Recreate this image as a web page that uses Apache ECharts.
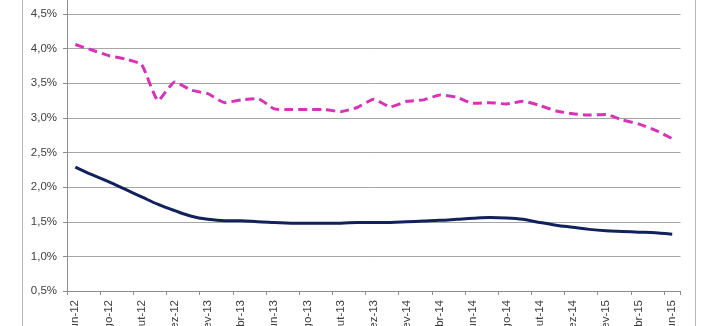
<!DOCTYPE html>
<html>
<head>
<meta charset="utf-8">
<script src="https://cdn.jsdelivr.net/npm/echarts@6/dist/echarts.min.js"></script>
<style>
html,body{margin:0;padding:0;background:#fff;}
#chart{width:712px;height:326px;}
</style>
</head>
<body>
<div id="chart"></div>
<script>
var categories = [
  'jun-12','jul-12','ago-12','set-12','out-12','nov-12','dez-12','jan-13','fev-13','mar-13','abr-13','mai-13',
  'jun-13','jul-13','ago-13','set-13','out-13','nov-13','dez-13','jan-14','fev-14','mar-14','abr-14','mai-14',
  'jun-14','jul-14','ago-14','set-14','out-14','nov-14','dez-14','jan-15','fev-15','mar-15','abr-15','mai-15',
  'jun-15'
];
var pinkSeries = [
  4.06, 3.98, 3.90, 3.85, 3.77, 3.25, 3.52, 3.40, 3.35, 3.22, 3.26, 3.28,
  3.13, 3.12, 3.12, 3.12, 3.09, 3.15, 3.27, 3.16, 3.24, 3.26, 3.33, 3.30,
  3.21, 3.22, 3.20, 3.24, 3.18, 3.10, 3.06, 3.04, 3.05, 2.97, 2.91, 2.82,
  2.70
];
var navySeries = [
  2.29, 2.18, 2.08, 1.97, 1.86, 1.75, 1.66, 1.58, 1.535, 1.515, 1.515, 1.50,
  1.49, 1.48, 1.48, 1.48, 1.48, 1.49, 1.49, 1.49, 1.50, 1.51, 1.52, 1.535,
  1.55, 1.56, 1.555, 1.535, 1.49, 1.45, 1.42, 1.39, 1.37, 1.36, 1.35, 1.34,
  1.32
];
var yMin = 0.5, yMax = 5.0, yStep = 0.5;

var chart = echarts.init(document.getElementById('chart'));
var font = 'Liberation Sans, Arial, sans-serif';
chart.setOption({
  animation: false,
  backgroundColor: '#ffffff',
  grid: { left: 67, right: 31.5, top: -20.6, bottom: 35, containLabel: false, outerBoundsMode: 'none' },
  graphic: [{
    type: 'rect',
    shape: { x: 22.5, y: -10, width: 673, height: 360 },
    style: { fill: 'none', stroke: '#b8b8b8', lineWidth: 1 },
    silent: true
  }],
  xAxis: {
    type: 'category',
    data: categories,
    boundaryGap: true,
    axisLine: { lineStyle: { color: '#8c8c8c', width: 1 } },
    axisTick: { show: true, interval: 1, length: 4, lineStyle: { color: '#8c8c8c' } },
    axisLabel: {
      interval: 1, rotate: 90, margin: 9, padding: [3, 0, 0, 0],
      color: '#404040', fontSize: 11.5, fontFamily: font
    },
    splitLine: { show: false }
  },
  yAxis: {
    type: 'value',
    min: yMin, max: yMax, interval: yStep,
    axisLine: { show: true, lineStyle: { color: '#8c8c8c', width: 1 } },
    axisTick: { show: true, length: 4, lineStyle: { color: '#8c8c8c' } },
    axisLabel: {
      margin: 10, color: '#404040', fontSize: 11.5, fontFamily: font,
      formatter: function (v) { return v.toFixed(1).replace('.', ',') + '%'; }
    },
    splitLine: { show: true, lineStyle: { color: '#a6a6a6', width: 1 } }
  },
  series: [
    {
      type: 'line', data: pinkSeries, symbol: 'none', smooth: 0.15,
      lineStyle: { color: '#d633b8', width: 3, type: [9, 5], cap: 'butt' }
    },
    {
      type: 'line', data: navySeries, symbol: 'none', smooth: 0.35,
      lineStyle: { color: '#12215c', width: 3 }
    }
  ]
});
</script>
</body>
</html>
